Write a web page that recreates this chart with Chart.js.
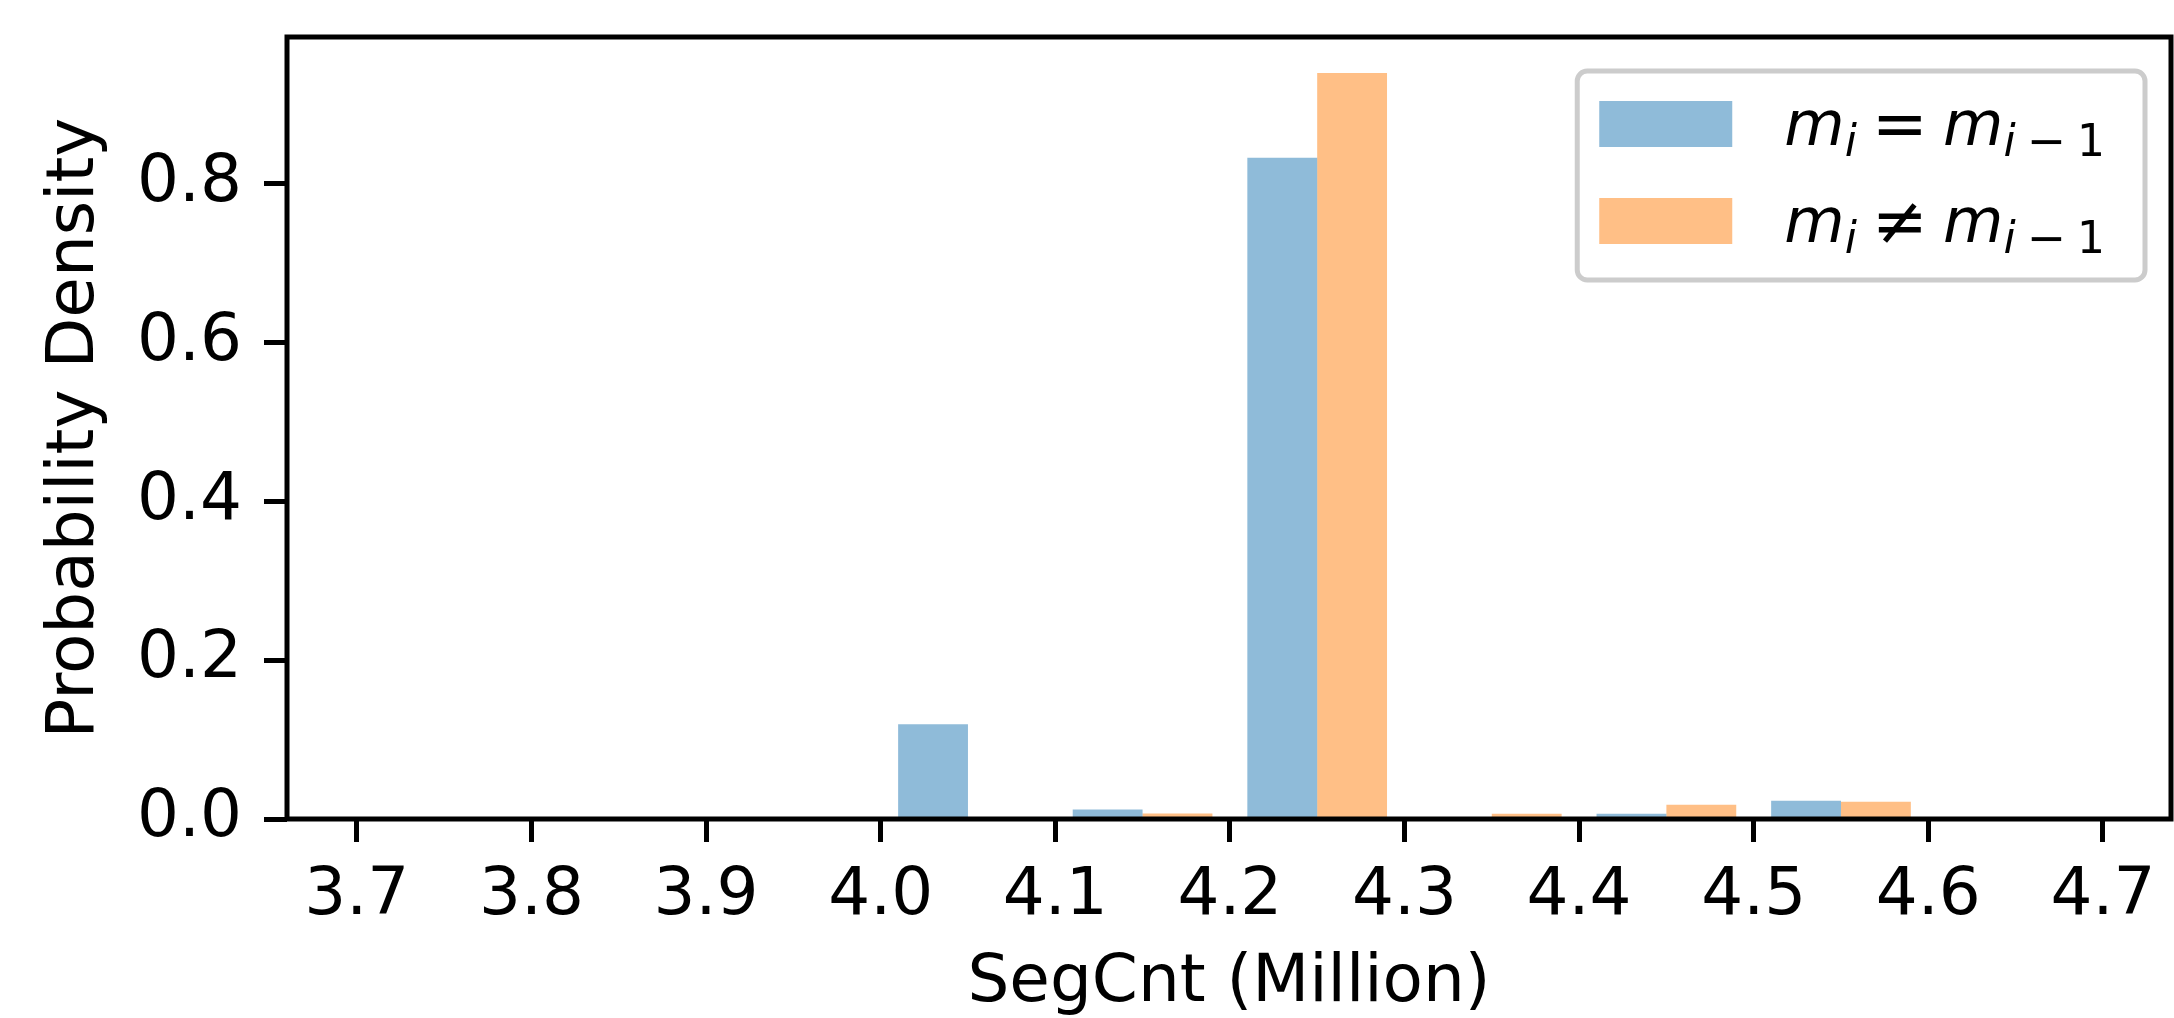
<!DOCTYPE html>
<html>
<head>
<meta charset="utf-8">
<title>SegCnt density</title>
<script src="https://cdn.jsdelivr.net/npm/chart.js@4.4.0/dist/chart.umd.min.js"></script>
<style>
  html, body { margin: 0; padding: 0; background: #fff; }
  #wrap { width: 2174px; height: 1018px; position: relative; }
</style>
</head>
<body>
<div id="wrap"><canvas id="chart"></canvas></div>
<script>
// --- Data ---
const binCenters = [4.05, 4.15, 4.25, 4.35, 4.45, 4.55];
const sameDensity = [0.1195, 0.012, 0.833, 0, 0.0066, 0.023];
const diffDensity = [0, 0.007, 0.9396, 0.0066, 0.018, 0.0217];
const xTicks = [3.7, 3.8, 3.9, 4.0, 4.1, 4.2, 4.3, 4.4, 4.5, 4.6, 4.7];
const yTicks = [0.0, 0.2, 0.4, 0.6, 0.8];
const seriesLabels = ['m_i = m_{i-1}', 'm_i \u2260 m_{i-1}'];
const seriesColors = ['rgba(31,119,180,0.5)', 'rgba(255,127,14,0.5)'];

const FONT = 'DejaVu Sans';

// --- Plugins ---
// full box around the plot, drawn over the bars like matplotlib spines
const spinesPlugin = {
	id: 'spines',
	afterDatasetsDraw(chart) {
		const { ctx, chartArea: a } = chart;
		ctx.save();
		ctx.strokeStyle = '#000';
		ctx.lineWidth = 5;
		ctx.strokeRect(a.left, a.top, a.right - a.left, a.bottom - a.top);
		ctx.restore();
	}
};

// split "m_i = m_{i-1}" into glyph pieces with subscript flags
function mathPieces(src) {
	const out = [];
	const push = (ch, sub) => {
		if (ch !== ' ') out.push({ ch: ch === '-' ? '\u2212' : ch, sub });
	};
	let i = 0;
	while (i < src.length) {
		const c = src[i];
		if (c === '_') {
			if (src[i + 1] === '{') {
				const j = src.indexOf('}', i);
				for (const ch of src.slice(i + 2, j)) push(ch, true);
				i = j + 1;
			} else {
				push(src[i + 1], true);
				i += 2;
			}
		} else {
			push(c, false);
			i++;
		}
	}
	return out;
}

const MAIN = 62, SUB = 44, SUBSHIFT = 11;

// size, font, gaps and vertical nudge of one glyph
function pieceStyle(p) {
	const isRel = p.ch === '=' || p.ch === '\u2260';
	const isMinus = p.ch === '\u2212';
	const italic = /[a-z]/i.test(p.ch);
	let size = p.sub ? SUB : MAIN;
	let gapL = 0, gapR = 0, dy = p.sub ? SUBSHIFT : 0;
	if (isRel) { size = 67; gapL = 15; gapR = 15; dy += 2; }
	if (isMinus) { size = 47; gapL = 11; gapR = 11; dy += 1; }
	return {
		font: (italic ? 'italic ' : '') + size + 'px "' + FONT + '"',
		gapL, gapR, dy
	};
}

function measureMath(ctx, pieces) {
	let w = 0;
	for (const p of pieces) {
		const st = pieceStyle(p);
		ctx.font = st.font;
		w += st.gapL + ctx.measureText(p.ch).width + st.gapR;
	}
	return w;
}

function drawMath(ctx, pieces, x, y) {
	for (const p of pieces) {
		const st = pieceStyle(p);
		ctx.font = st.font;
		x += st.gapL;
		ctx.fillText(p.ch, x, y + st.dy);
		x += ctx.measureText(p.ch).width + st.gapR;
	}
}

// legend inside the upper right corner, with a rounded grey frame
const insetLegend = {
	id: 'insetLegend',
	afterDraw(chart) {
		const { ctx, chartArea: a } = chart;
		const sets = chart.data.datasets;
		const pieces = sets.map(d => mathPieces(d.label));
		ctx.save();
		const textW = Math.max(...pieces.map(p => measureMath(ctx, p)));
		const padL = 22, patchW = 133, patchH = 46, gap = 52, padR = 40;
		const boxW = padL + patchW + gap + textW + padR;
		const boxH = 209;
		const right = a.right - 26;
		const left = right - boxW;
		const top = a.top + 34;

		ctx.beginPath();
		ctx.roundRect(left, top, boxW, boxH, 10);
		ctx.fillStyle = 'rgba(255,255,255,0.8)';
		ctx.fill();
		ctx.lineWidth = 5;
		ctx.strokeStyle = '#cccccc';
		ctx.stroke();

		sets.forEach((d, i) => {
			const cy = top + 53 + i * 97;
			ctx.fillStyle = d.backgroundColor;
			ctx.fillRect(left + padL, cy - patchH / 2, patchW, patchH);
			ctx.fillStyle = '#000';
			ctx.textBaseline = 'alphabetic';
			ctx.textAlign = 'left';
			drawMath(ctx, pieces[i], left + padL + patchW + gap, cy + 21);
		});
		ctx.restore();
	}
};

// --- Chart ---
const tickFont = { family: FONT, size: 66 };

const ctx = document.getElementById('chart').getContext('2d');
new Chart(ctx, {
	type: 'bar',
	data: {
		datasets: seriesLabels.map((label, k) => ({
			label: label,
			data: binCenters.map((x, i) => ({ x: x, y: (k === 0 ? sameDensity : diffDensity)[i] })),
			backgroundColor: seriesColors[k],
			borderWidth: 0,
			categoryPercentage: 0.8,
			barPercentage: 1.0
		}))
	},
	options: {
		responsive: true,
		maintainAspectRatio: false,
		animation: false,
		layout: { padding: { left: 0, top: 37, right: 3, bottom: 0 } },
		plugins: {
			legend: { display: false },
			tooltip: { enabled: false }
		},
		scales: {
			x: {
				type: 'linear',
				min: 3.66,
				max: 4.739,
				offset: false,
				afterBuildTicks: s => { s.ticks = xTicks.map(v => ({ value: v })); },
				afterFit: s => {
					s.height = 199;
					s.paddingLeft = 0;
					s.paddingRight = 0;
				},
				grid: {
					offset: false,
					drawOnChartArea: false,
					drawTicks: true,
					tickLength: 23,
					tickWidth: 5,
					tickColor: '#000'
				},
				border: { display: false },
				ticks: {
					color: '#000',
					font: tickFont,
					padding: 15,
					maxRotation: 0,
					autoSkip: false,
					callback: v => Number(v).toFixed(1)
				},
				title: {
					display: true,
					text: 'SegCnt (Million)',
					color: '#000',
					font: { family: FONT, size: 66, lineHeight: 1.0 },
					padding: { top: 0, bottom: 1 }
				}
			},
			y: {
				type: 'linear',
				min: 0,
				max: 0.985,
				afterBuildTicks: s => { s.ticks = yTicks.map(v => ({ value: v })); },
				afterFit: s => {
					s.width = 287;
					s.paddingTop = 0;
					s.paddingBottom = 0;
				},
				grid: {
					drawOnChartArea: false,
					drawTicks: true,
					tickLength: 23,
					tickWidth: 5,
					tickColor: '#000'
				},
				border: { display: false },
				ticks: {
					color: '#000',
					font: tickFont,
					padding: 22,
					callback: v => Number(v).toFixed(1)
				},
				title: {
					display: true,
					text: 'Probability Density',
					color: '#000',
					font: { family: FONT, size: 66, lineHeight: 1.0 },
					padding: { top: 43, bottom: 0 }
				}
			}
		}
	},
	plugins: [spinesPlugin, insetLegend]
});
</script>
</body>
</html>
